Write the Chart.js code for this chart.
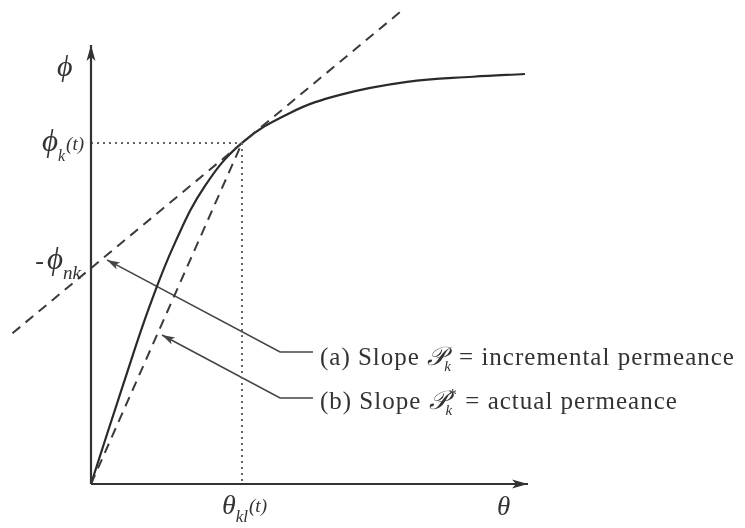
<!DOCTYPE html>
<html>
<head>
<meta charset="utf-8">
<script src="https://cdn.jsdelivr.net/npm/chart.js@4.4.1/dist/chart.umd.min.js"></script>
<style>
html,body{margin:0;padding:0;background:#fff}
#fig{display:block;filter:blur(0.4px)}
</style>
</head>
<body>
<canvas id="fig" width="745" height="528"></canvas>
<script>
// phi(theta) curve, scaled so the operating point sits at (1,1)
const curveTheta=[0,0.212,0.391,0.556,0.755,1,1.318,1.649,2.093,2.530,2.874];
const curvePhi=[0,0.290,0.525,0.707,0.874,1,1.088,1.141,1.179,1.194,1.202];

// tangent at the operating point (a) and chord from the origin (b)
const tangentTheta=[-0.52,2.05];
const tangentPhi=[0.442,1.385];
const chordTheta=[0,1];
const chordPhi=[0,1];

// operating point and tangent intercept on the phi axis
const thetaK=1;
const phiK=1;
const phiNK=0.633;

// axis lengths
const thetaMax=2.894;
const phiMax=1.287;

// pointer lines for the two notes: text end -> bend -> tip
const pointerA=[[1.47,0.387],[1.252,0.387],[0.106,0.657]];
const pointerB=[[1.47,0.252],[1.252,0.252],[0.47,0.437]];

const INK='#333';
const SERIF="'Liberation Serif', 'DejaVu Serif', serif";

function pts(xs,ys){return xs.map((x,i)=>({x:x,y:ys[i]}))}
function pp(a){return a.map(p=>({x:p[0],y:p[1]}))}

function line(data,opt){
return Object.assign({data:data,showLine:true,pointRadius:0,borderColor:INK,borderWidth:2,fill:false,tension:0},opt||{})}

// draw a row of text pieces (sub/superscripts) starting at x
function runs(ctx,x,y,parts,alignRight){
let w=0;
parts.forEach(p=>{ctx.font=p.f;w+=ctx.measureText(p.t).width+(p.gap||0)});
if(alignRight){x-=w}
parts.forEach(p=>{ctx.font=p.f;ctx.fillText(p.t,x,y+(p.dy||0));x+=ctx.measureText(p.t).width+(p.gap||0)});
return w}

function head(ctx,x0,y0,x1,y1,len,half){
const a=Math.atan2(y1-y0,x1-x0);
ctx.beginPath();
ctx.moveTo(x1,y1);
ctx.lineTo(x1-len*Math.cos(a)+half*Math.sin(a),y1-len*Math.sin(a)-half*Math.cos(a));
ctx.lineTo(x1-len*0.75*Math.cos(a),y1-len*0.75*Math.sin(a));
ctx.lineTo(x1-len*Math.cos(a)-half*Math.sin(a),y1-len*Math.sin(a)+half*Math.cos(a));
ctx.closePath();ctx.fill()}

const decorPlugin={
id:'decor',
afterDatasetsDraw(chart){
const ctx=chart.ctx,X=chart.scales.x,Y=chart.scales.y;
const px=v=>X.getPixelForValue(v),py=v=>Y.getPixelForValue(v);
ctx.save();
ctx.fillStyle=INK;
// axis arrowheads
head(ctx,px(0),py(0),px(thetaMax),py(0),16,4.5);
head(ctx,px(0),py(0),px(0),py(phiMax),16,4.5);
// pointer arrowheads
[pointerA,pointerB].forEach(p=>{
ctx.fillStyle='#444';
head(ctx,px(p[1][0]),py(p[1][1]),px(p[2][0]),py(p[2][1]),13,4)});
ctx.fillStyle=INK;
ctx.textBaseline='alphabetic';
const it=s=>'italic '+s+'px '+SERIF;
const rm=s=>s+'px '+SERIF;
// axis names
runs(ctx,px(0)-34,py(phiMax)+31,[{t:'ϕ',f:it(30)}]);
runs(ctx,px(thetaMax)-31,py(0)+31,[{t:'θ',f:it(27)}]);
// phi_k(t)
runs(ctx,px(0)-7,py(phiK)+8,[{t:'ϕ',f:it(31)},{t:'k',f:it(16),dy:10,gap:1},{t:'(t)',f:it(19),dy:-1}],true);
// -phi_nk
runs(ctx,px(0)-10,py(phiNK)+1,[{t:'-',f:rm(26),gap:3},{t:'ϕ',f:it(31)},{t:'nk',f:it(19),dy:10}],true);
// theta_kl(t)
runs(ctx,px(thetaK)-20,py(0)+30,[{t:'θ',f:it(28)},{t:'kl',f:it(17),dy:8,gap:1},{t:'(t)',f:it(19),dy:-2}]);
// notes
const tx=px(pointerA[0][0])+7;
ctx.letterSpacing='1px';
[[pointerA,'(a)','',' = incremental permeance',13],[pointerB,'(b)','*',' = actual permeance',11]].forEach(n=>{
const by=py(n[0][0][1])+n[4];
let x=tx;
ctx.font=rm(25);ctx.fillText(n[1]+' Slope ',x,by);x+=ctx.measureText(n[1]+' Slope ').width;
ctx.font=it(26);ctx.fillText('𝒫',x,by);const pw=ctx.measureText('𝒫').width;
ctx.font=it(15);ctx.fillText('k',x+pw-3,by+6);
let sw=ctx.measureText('k').width;
if(n[2]){ctx.font=rm(17);ctx.fillText(n[2],x+pw,by-9);sw=Math.max(sw,ctx.measureText(n[2]).width+3)}
x+=pw-3+sw;
ctx.font=rm(25);ctx.fillText(n[3],x,by)});
ctx.restore()}};

new Chart(document.getElementById('fig'),{
type:'scatter',
data:{datasets:[
line([{x:0,y:0},{x:thetaMax,y:0}],{borderWidth:2.2}),
line([{x:0,y:0},{x:0,y:phiMax}],{borderWidth:2.2}),
line([{x:0,y:phiK},{x:thetaK,y:phiK}],{borderDash:[2,4],borderWidth:2,borderColor:'#666'}),
line([{x:thetaK,y:phiK},{x:thetaK,y:0}],{borderDash:[2,4],borderWidth:2,borderColor:'#666'}),
line(pts(tangentTheta,tangentPhi),{borderDash:[10,7],borderColor:'#3a3a3a'}),
line(pts(chordTheta,chordPhi),{borderDash:[10,7],borderColor:'#3a3a3a'}),
line(pts(curveTheta,curvePhi),{tension:0.4,borderWidth:2.2,borderColor:'#2a2a2a'}),
line(pp(pointerA),{borderWidth:1.6,borderColor:'#444'}),
line(pp(pointerB),{borderWidth:1.6,borderColor:'#444'})
]},
options:{
responsive:false,
animation:false,
layout:{padding:0},
plugins:{legend:{display:false},tooltip:{enabled:false}},
scales:{
x:{type:'linear',display:false,min:-0.6026,max:4.331},
y:{type:'linear',display:false,min:-0.129,max:1.419}
}},
plugins:[decorPlugin]
});
</script>
</body>
</html>
